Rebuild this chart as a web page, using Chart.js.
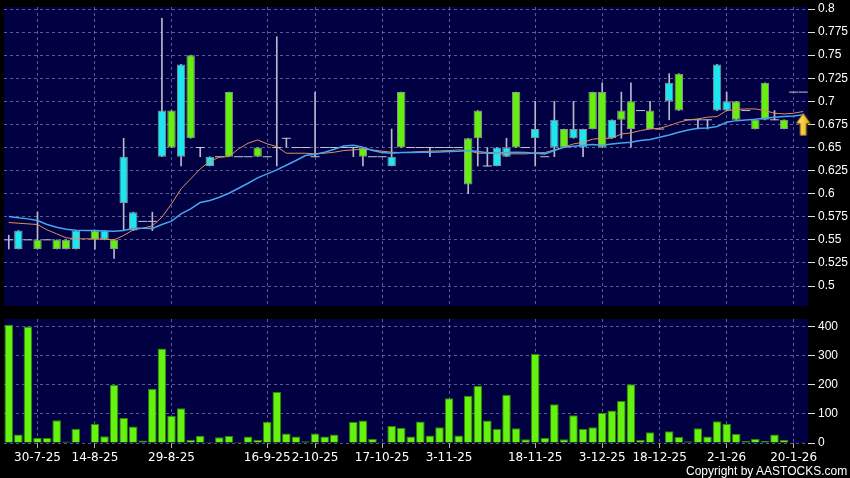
<!DOCTYPE html>
<html>
<head>
<meta charset="utf-8">
<script src="https://cdn.jsdelivr.net/npm/chart.js@4.4.1/dist/chart.umd.min.js"></script>
<style>
  html, body { margin: 0; padding: 0; background: #000; }
  #wrap { position: relative; width: 850px; height: 478px; overflow: hidden; background: #000; }
  #priceChart { position: absolute; left: 0; top: 0; }
  #volumeChart { position: absolute; left: 0; top: 310px; }
  #copy { position: absolute; left: 686px; top: 464px; color: #fff; white-space: nowrap;
          font: 12px 'Liberation Sans Narrow', 'Liberation Sans', sans-serif; }
</style>
</head>
<body>
<div id="wrap">
  <canvas id="priceChart" width="850" height="310"></canvas>
  <canvas id="volumeChart" width="850" height="168"></canvas>
  <div id="copy">Copyright by AASTOCKS.com Ltd.</div>
</div>
<script>
// Date labels shown under the chart (index of the candle -> text)
const tickIdx = [3, 9, 17, 27, 32, 39, 46, 55, 62, 68, 75, 82];
const tickText = ['30-7-25', '14-8-25', '29-8-25', '16-9-25', '2-10-25', '17-10-25', '3-11-25', '18-11-25', '3-12-25', '18-12-25', '2-1-26', '20-1-26'];

// Price axis and volume axis ticks
const priceTicks = [0.5, 0.525, 0.55, 0.575, 0.6, 0.625, 0.65, 0.675, 0.7, 0.725, 0.75, 0.775, 0.8];
const volumeTicks = [0, 100, 200, 300, 400];

// OHLC per session (null = no trade)
const open = [0.55, 0.56, 0.55, 0.54, 0.55, 0.54, 0.54, 0.56, null, 0.55, 0.56, 0.54, 0.64, 0.58, 0.57, 0.57, 0.69, 0.65, 0.74, 0.66,
  0.65, 0.64, 0.64, 0.64, 0.64, 0.64, 0.64, 0.64, 0.65, 0.66, 0.65, 0.65, 0.64, 0.65, 0.65, 0.65, 0.65, 0.64, 0.64, 0.64,
  0.64, 0.65, 0.65, 0.65, 0.65, 0.65, 0.65, 0.65, 0.61, 0.66, 0.63, 0.65, 0.65, 0.65, 0.65, 0.67, 0.64, 0.68, 0.65, 0.67,
  0.67, 0.67, 0.65, 0.68, 0.68, 0.67, 0.69, 0.67, 0.67, 0.72, 0.69, 0.68, 0.68, 0.68, 0.74, 0.70, 0.68, 0.69, 0.67, 0.68,
  0.68, 0.67, 0.71, 0.71];
const high = [0.555, 0.56, 0.55, 0.58, 0.55, 0.55, 0.55, 0.56, null, 0.56, 0.56, 0.55, 0.66, 0.58, 0.57, 0.58, 0.79, 0.69, 0.74, 0.75,
  0.65, 0.64, 0.64, 0.71, 0.64, 0.64, 0.65, 0.64, 0.77, 0.66, 0.65, 0.65, 0.71, 0.65, 0.65, 0.65, 0.65, 0.65, 0.64, 0.64,
  0.67, 0.71, 0.65, 0.65, 0.65, 0.65, 0.65, 0.65, 0.66, 0.69, 0.65, 0.65, 0.66, 0.71, 0.65, 0.70, 0.64, 0.70, 0.67, 0.70,
  0.67, 0.71, 0.72, 0.68, 0.71, 0.72, 0.69, 0.70, 0.67, 0.73, 0.73, 0.68, 0.68, 0.68, 0.74, 0.71, 0.70, 0.69, 0.68, 0.72,
  0.69, 0.68, 0.71, 0.71];
const low = [0.54, 0.54, 0.55, 0.54, 0.55, 0.54, 0.54, 0.54, null, 0.54, 0.55, 0.53, 0.56, 0.56, 0.57, 0.56, 0.64, 0.65, 0.63, 0.66,
  0.64, 0.63, 0.64, 0.64, 0.64, 0.64, 0.64, 0.64, 0.63, 0.65, 0.65, 0.65, 0.64, 0.65, 0.65, 0.65, 0.64, 0.63, 0.64, 0.64,
  0.63, 0.65, 0.65, 0.65, 0.64, 0.65, 0.65, 0.65, 0.60, 0.63, 0.63, 0.63, 0.64, 0.65, 0.65, 0.63, 0.64, 0.64, 0.65, 0.66,
  0.64, 0.67, 0.65, 0.66, 0.66, 0.65, 0.69, 0.67, 0.67, 0.68, 0.69, 0.68, 0.67, 0.67, 0.69, 0.69, 0.68, 0.69, 0.67, 0.68,
  0.68, 0.67, 0.71, 0.71];
const close = [0.55, 0.54, 0.55, 0.55, 0.55, 0.55, 0.55, 0.54, null, 0.56, 0.55, 0.55, 0.59, 0.56, 0.57, 0.57, 0.64, 0.69, 0.64, 0.75,
  0.65, 0.63, 0.64, 0.71, 0.64, 0.64, 0.65, 0.64, 0.65, 0.66, 0.65, 0.65, 0.64, 0.65, 0.65, 0.65, 0.65, 0.65, 0.64, 0.64,
  0.63, 0.71, 0.65, 0.65, 0.65, 0.65, 0.65, 0.65, 0.66, 0.69, 0.63, 0.63, 0.64, 0.71, 0.65, 0.66, 0.64, 0.65, 0.67, 0.66,
  0.65, 0.71, 0.71, 0.66, 0.69, 0.70, 0.69, 0.69, 0.67, 0.70, 0.73, 0.68, 0.68, 0.68, 0.69, 0.69, 0.70, 0.69, 0.68, 0.72,
  0.68, 0.68, 0.71, 0.71];

// Moving averages
const maShort = [0.5688, 0.568, 0.5673, 0.5666, 0.5608, 0.5565, 0.5522, 0.5511, 0.5511, 0.5511, 0.5507, 0.55, 0.5547, 0.5608, 0.5626, 0.5651, 0.5745, 0.589, 0.6052, 0.616,
  0.6268, 0.635, 0.6395, 0.6402, 0.6485, 0.6546, 0.6582, 0.6539, 0.651, 0.6438, 0.6438, 0.6438, 0.643, 0.6438, 0.6449, 0.6467, 0.6474, 0.6481, 0.6474, 0.646,
  0.6449, 0.6445, 0.6449, 0.6456, 0.646, 0.6463, 0.6467, 0.6474, 0.6467, 0.6438, 0.6438, 0.6431, 0.6431, 0.6431, 0.6431, 0.6442, 0.6445, 0.6474, 0.6503, 0.6539,
  0.6557, 0.659, 0.66, 0.66, 0.6647, 0.6658, 0.6683, 0.6701, 0.6708, 0.6737, 0.6773, 0.6799, 0.681, 0.6828, 0.6835, 0.69, 0.6911, 0.6918, 0.6918, 0.69,
  0.6871, 0.6864, 0.6871, 0.689];
const maLong = [0.5753, 0.5738, 0.5727, 0.5709, 0.5666, 0.5637, 0.5615, 0.5605, 0.5601, 0.5601, 0.5597, 0.5594, 0.5601, 0.5626, 0.5626, 0.5623, 0.5666, 0.5702, 0.5781, 0.5835,
  0.5904, 0.5926, 0.5962, 0.6005, 0.6059, 0.6113, 0.6171, 0.6214, 0.6258, 0.6308, 0.6359, 0.6413, 0.6427, 0.6449, 0.6481, 0.6517, 0.6525, 0.6503, 0.6467, 0.6445,
  0.6438, 0.6445, 0.6445, 0.6449, 0.6449, 0.6452, 0.6456, 0.646, 0.6467, 0.6456, 0.6442, 0.6442, 0.6445, 0.6449, 0.6445, 0.6438, 0.6431, 0.6467, 0.6503, 0.6514,
  0.6525, 0.6532, 0.6525, 0.6539, 0.655, 0.6557, 0.6575, 0.6586, 0.6611, 0.6636, 0.6665, 0.669, 0.6708, 0.6712, 0.6727, 0.6773, 0.6791, 0.6799, 0.6806, 0.6817,
  0.6828, 0.6835, 0.6842, 0.6855];

// Volume per session
const volume = [406, 29, 400, 17, 17, 78, 5, 49, 0, 65, 23, 199, 86, 57, 9, 186, 325, 94, 119, 11,
  25, 4, 20, 24, 4, 22, 10, 73, 175, 33, 22, 6, 33, 22, 29, 2, 72, 77, 14, 3,
  58, 52, 22, 74, 26, 54, 154, 26, 162, 197, 77, 48, 166, 51, 13, 306, 18, 133, 13, 95,
  48, 54, 104, 112, 144, 202, 10, 37, 3, 40, 21, 6, 51, 22, 75, 66, 31, 7, 14, 7,
  29, 10, 3, 3];

// Yellow marker on the last session
const arrowIdx = 83;
const arrowPrice = 0.675;

const UP = '#66ee10';
const DOWN = '#1ee6f0';
const GRID = 'rgba(140, 140, 190, 0.65)';
const PLOT_BG = '#000042';

const categories = volume.map((_, i) => {
  const k = tickIdx.indexOf(i);
  return k >= 0 ? tickText[k] : '';
});

// Navy plot background
const plotBg = {
  id: 'plotBg',
  beforeDraw(chart) {
    const a = chart.chartArea;
    const ctx = chart.ctx;
    ctx.save();
    ctx.fillStyle = PLOT_BG;
    ctx.fillRect(a.left, a.top, a.right - a.left, a.bottom - a.top);
    ctx.restore();
  }
};

function makeArrow() {
  const c = document.createElement('canvas');
  c.width = 16; c.height = 24;
  const g = c.getContext('2d');
  const grad = g.createLinearGradient(0, 0, 16, 0);
  grad.addColorStop(0, '#fff58a');
  grad.addColorStop(1, '#e9a200');
  g.beginPath();
  g.moveTo(8, 1); g.lineTo(15, 11); g.lineTo(11, 11); g.lineTo(11, 23);
  g.lineTo(5, 23); g.lineTo(5, 11); g.lineTo(1, 11); g.closePath();
  g.fillStyle = grad; g.fill();
  g.strokeStyle = '#a86c00'; g.lineWidth = 1; g.stroke();
  return c;
}

const xTicksOnly = s => { s.ticks = tickIdx.map(i => ({ value: i })); };
// keep the plot box fixed: no extra room for half-labels
const noPad = s => { s.paddingTop = 0; s.paddingBottom = 0; s.paddingLeft = 0; s.paddingRight = 0; };

const wickData = low.map((l, i) => (l == null || high[i] <= l) ? null : [l, high[i]]);
const bodyData = open.map((o, i) => (o == null || o === close[i]) ? null : [Math.min(o, close[i]), Math.max(o, close[i])]);
const dojiData = open.map((o, i) => (o != null && o === close[i]) ? o : null);
const arrowData = volume.map((_, i) => i === arrowIdx ? arrowPrice : null);

// Price panel: candles + two moving averages
const priceChart = new Chart(document.getElementById('priceChart').getContext('2d'), {
  type: 'bar',
  data: {
    labels: categories,
    datasets: [
      { label: 'wick', data: wickData, backgroundColor: '#b8b8cc', barThickness: 1, grouped: false, order: 5 },
      {
        label: 'body', data: bodyData, grouped: false, order: 4,
        backgroundColor: c => close[c.dataIndex] > open[c.dataIndex] ? UP : DOWN,
        borderColor: '#8a9494', borderWidth: 1, borderSkipped: false,
        barPercentage: 0.88, categoryPercentage: 1
      },
      { type: 'line', label: 'doji', data: dojiData, showLine: false, pointStyle: 'line', pointRadius: 4.5,
        pointBorderColor: '#c4c4d4', pointBorderWidth: 1, order: 4 },
      { type: 'line', label: 'MA10', data: maShort, borderColor: '#e0905c', borderWidth: 1, pointRadius: 0, tension: 0, order: 2 },
      { type: 'line', label: 'MA20', data: maLong, borderColor: '#45a6ec', borderWidth: 1.5, pointRadius: 0, tension: 0, order: 1 },
      { type: 'line', label: 'mark', data: arrowData, showLine: false, pointStyle: makeArrow(), pointRadius: 10, clip: false, order: 0 }
    ]
  },
  options: {
    responsive: false,
    animation: false,
    events: [],
    layout: { autoPadding: false, padding: { left: 4, top: 7, bottom: 4, right: 0 } },
    plugins: { legend: { display: false }, tooltip: { enabled: false } },
    scales: {
      x: {
        offset: true,
        afterBuildTicks: xTicksOnly,
        afterFit: s => { s.height = 0; noPad(s); },
        ticks: { display: false },
        grid: { color: GRID, offset: false, drawTicks: false },
        border: { display: false, dash: [3, 3] }
      },
      y: {
        position: 'right',
        min: 0.47834,
        max: 0.80217,
        afterBuildTicks: s => { s.ticks = priceTicks.map(v => ({ value: v })); },
        afterFit: s => { s.width = 42; noPad(s); },
        ticks: { color: '#ffffff', padding: 3, font: { family: 'Liberation Sans', size: 12 },
                 callback: v => String(+v.toFixed(3)) },
        grid: { color: GRID, tickColor: '#e0e0e0', tickLength: 7 },
        border: { display: false, dash: [3, 3] }
      }
    }
  },
  plugins: [plotBg]
});

// Volume panel
const volumeChart = new Chart(document.getElementById('volumeChart').getContext('2d'), {
  type: 'bar',
  data: {
    labels: categories,
    datasets: [{
      label: 'Volume',
      data: volume,
      backgroundColor: '#66f20f',
      borderColor: '#2c8a00',
      borderWidth: 1,
      barPercentage: 0.9,
      categoryPercentage: 1
    }]
  },
  options: {
    responsive: false,
    animation: false,
    events: [],
    layout: { autoPadding: false, padding: { left: 4, top: 9, bottom: 0, right: 0 } },
    plugins: { legend: { display: false }, tooltip: { enabled: false } },
    scales: {
      x: {
        offset: true,
        afterBuildTicks: xTicksOnly,
        afterFit: s => { s.height = 35; noPad(s); },
        ticks: { color: '#ffffff', autoSkip: false, maxRotation: 0, padding: 3,
                 font: { family: 'DejaVu Sans', size: 12 } },
        grid: { color: GRID, offset: false, tickColor: '#b0b0b0', tickLength: 5 },
        border: { display: false, dash: [3, 3] }
      },
      y: {
        position: 'right',
        min: 0,
        max: 426,
        afterBuildTicks: s => { s.ticks = volumeTicks.map(v => ({ value: v })); },
        afterFit: s => { s.width = 42; noPad(s); },
        ticks: { color: '#ffffff', padding: 3, font: { family: 'Liberation Sans', size: 12 } },
        grid: { color: GRID, tickColor: '#e0e0e0', tickLength: 7 },
        border: { display: false, dash: [3, 3] }
      }
    }
  },
  plugins: [plotBg]
});
</script>
</body>
</html>
